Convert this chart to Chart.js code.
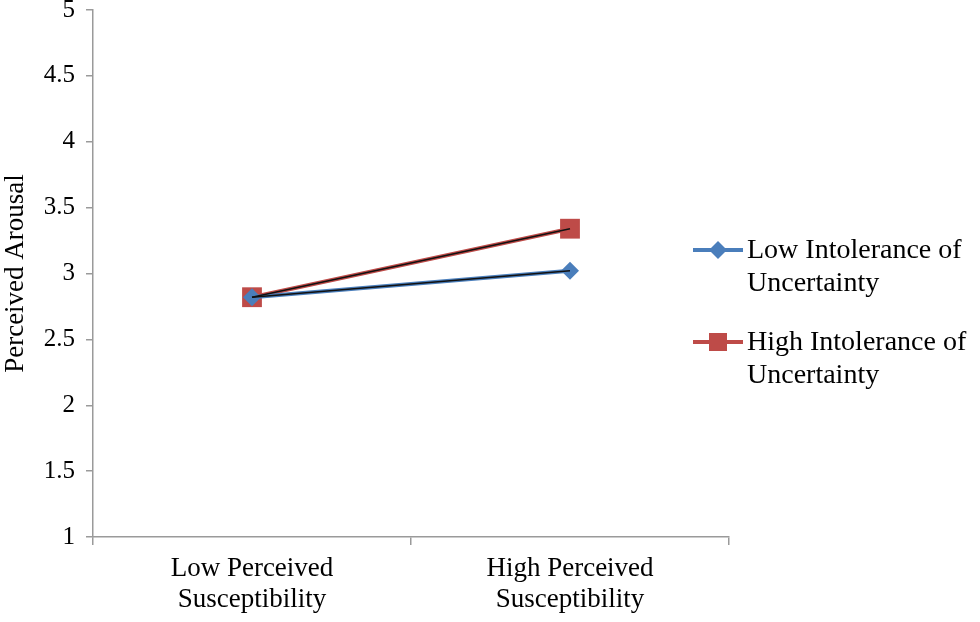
<!DOCTYPE html>
<html>
<head>
<meta charset="utf-8">
<script src="https://cdn.jsdelivr.net/npm/chart.js@4.4.1/dist/chart.umd.min.js"></script>
<style>
  html, body { margin: 0; padding: 0; background: #fff; }
  #wrap { position: relative; width: 980px; height: 622px; }
  #legend { position: absolute; left: 693px; top: 232px; font-family: "Liberation Serif", "Times New Roman", serif; font-size: 28px; line-height: 33px; color: #000; }
  .item { position: relative; padding-left: 54px; margin-bottom: 26px; }
  .item canvas { position: absolute; left: 0; top: 5px; }
</style>
</head>
<body>
<div id="wrap">
  <canvas id="c" width="980" height="622"></canvas>
  <div id="legend"></div>
</div>
<script>
const categories = [["Low Perceived", "Susceptibility"], ["High Perceived", "Susceptibility"]];
const lowIU = [2.82, 3.02];
const highIU = [2.82, 3.34];
const seriesNames = [["Low Intolerance of", "Uncertainty"], ["High Intolerance of", "Uncertainty"]];
const yTicks = [1, 1.5, 2, 2.5, 3, 3.5, 4, 4.5, 5];
const yTickLabels = ["1", "1.5", "2", "2.5", "3", "3.5", "4", "4.5", "5"];
const yTitle = "Perceived Arousal";

const BLUE = "#4a7ebb";
const RED = "#be4b48";
const AXIS = "#9a9a9a";
const FONT = "'Liberation Serif', 'Times New Roman', serif";

const overlay = {
  id: 'overlay',
  afterDatasetsDraw(chart) {
    const ctx = chart.ctx;
    chart.data.datasets.forEach((ds, i) => {
      const pts = chart.getDatasetMeta(i).data;
      ctx.save();
      ctx.strokeStyle = "#111";
      ctx.lineWidth = 1.5;
      ctx.beginPath();
      pts.forEach((p, j) => { if (j === 0) ctx.moveTo(p.x, p.y); else ctx.lineTo(p.x, p.y); });
      ctx.stroke();
      ctx.restore();
    });
  }
};

new Chart(document.getElementById('c'), {
  type: 'line',
  data: {
    labels: categories,
    datasets: [
      { label: seriesNames[0].join(' '), data: lowIU, borderColor: BLUE, backgroundColor: BLUE, borderWidth: 4,
        pointStyle: 'rectRot', pointRadius: 9, pointHoverRadius: 9, pointBorderWidth: 0 },
      { label: seriesNames[1].join(' '), data: highIU, borderColor: RED, backgroundColor: RED, borderWidth: 4,
        pointStyle: 'rect', pointRadius: 14, pointHoverRadius: 14, pointBorderWidth: 0 }
    ]
  },
  options: {
    responsive: false,
    animation: false,
    layout: { autoPadding: false, padding: { left: 0, right: 251, top: 0, bottom: 0 } },
    plugins: { legend: { display: false }, tooltip: { enabled: false } },
    scales: {
      x: {
        type: 'category',
        offset: true,
        grid: { offset: true, drawOnChartArea: false, drawTicks: true, tickLength: 8, color: AXIS, lineWidth: 1.5 },
        border: { color: AXIS, width: 1.5 },
        ticks: { color: '#000', font: { family: FONT, size: 27, lineHeight: 1.15 }, padding: 8, maxRotation: 0 },
        afterFit(s) { s.height = 85; }
      },
      y: {
        min: 1, max: 5,
        afterBuildTicks(s) { s.ticks = yTicks.map(v => ({ value: v })); },
        grid: { drawOnChartArea: false, drawTicks: true, tickLength: 7, color: AXIS, lineWidth: 1.5 },
        border: { color: AXIS, width: 1.5 },
        ticks: { color: '#000', font: { family: FONT, size: 25 }, padding: 11,
                 callback: (v) => yTickLabels[yTicks.indexOf(v)] },
        title: { display: true, text: yTitle, color: '#000', font: { family: FONT, size: 27 }, padding: 0 },
        afterFit(s) { s.width = 93; s.paddingTop = 10; }
      }
    }
  },
  plugins: [overlay]
});

// HTML legend
const legend = document.getElementById('legend');
const styles = [{ c: BLUE, shape: 'diamond' }, { c: RED, shape: 'square' }];
seriesNames.forEach((name, i) => {
  const item = document.createElement('div');
  item.className = 'item';
  const cv = document.createElement('canvas');
  cv.width = 52; cv.height = 26;
  const g = cv.getContext('2d');
  g.strokeStyle = styles[i].c; g.lineWidth = 4;
  g.beginPath(); g.moveTo(0, 13); g.lineTo(50, 13); g.stroke();
  g.fillStyle = styles[i].c;
  if (styles[i].shape === 'diamond') {
    g.beginPath(); g.moveTo(25, 4); g.lineTo(34, 13); g.lineTo(25, 22); g.lineTo(16, 13); g.closePath(); g.fill();
  } else {
    g.fillRect(16, 4, 18, 18);
  }
  item.appendChild(cv);
  name.forEach((line) => { const d = document.createElement('div'); d.textContent = line; item.appendChild(d); });
  legend.appendChild(item);
});
</script>
</body>
</html>
